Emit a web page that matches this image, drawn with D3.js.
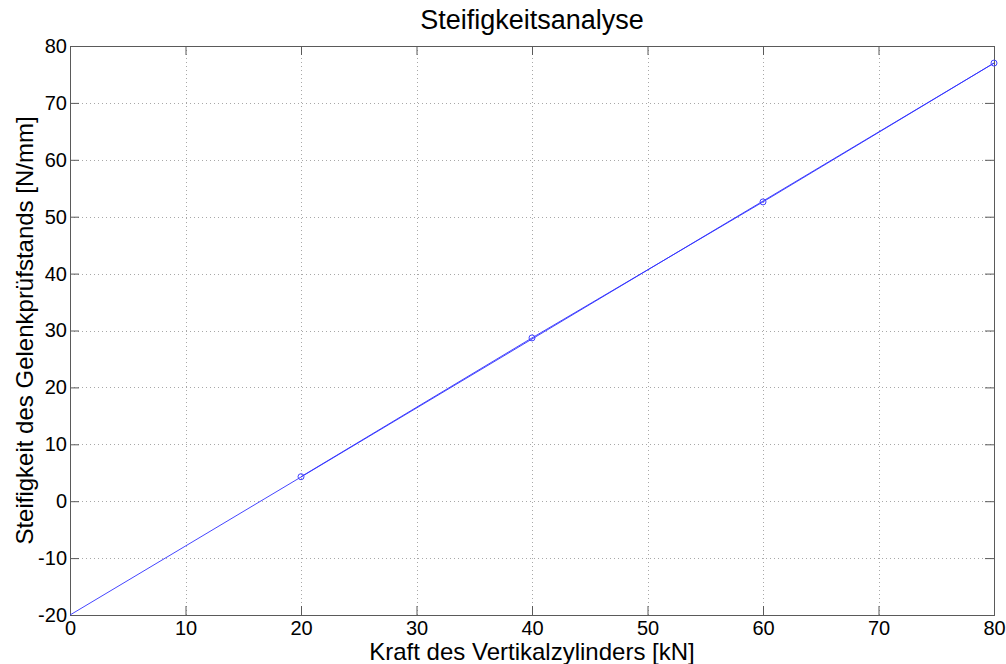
<!DOCTYPE html>
<html>
<head>
<meta charset="utf-8">
<script src="https://cdn.jsdelivr.net/npm/d3@7"></script>
<style>
  html, body { margin: 0; padding: 0; background: #fff; }
  svg { display: block; font-family: "Liberation Sans", Arial, sans-serif; }
</style>
</head>
<body>
<svg id="chart" width="1006" height="664"></svg>
<script>
// Measured force levels and resulting stiffness
const forceKN = [20, 40, 60, 80];
const stiffness = [4.3, 28.7, 52.6, 77.0];

// Linear fit through the measurements, drawn across the full force range
const fitForce = [0, 80];
const fitStiffness = [-20.0, 77.0];

const xTicks = [0, 10, 20, 30, 40, 50, 60, 70, 80];
const yTicks = [-20, -10, 0, 10, 20, 30, 40, 50, 60, 70, 80];

const titleText = "Steifigkeitsanalyse";
const xLabelText = "Kraft des Vertikalzylinders [kN]";
const yLabelText = "Steifigkeit des Gelenkprüfstands [N/mm]";

const svg = d3.select("#chart");
const margin = { left: 70, right: 12, top: 46, bottom: 49 };
const W = 1006, H = 664;
const x0 = margin.left, x1 = W - margin.right;
const y0 = H - margin.bottom, y1 = margin.top;

const x = d3.scaleLinear().domain([0, 80]).range([x0, x1]);
const y = d3.scaleLinear().domain([-20, 80]).range([y0, y1]);

const axisColor = "#5a5a5a";
const tickLen = 9;
const plainNum = d => String(d);

// Dotted grid
const grid = svg.append("g").attr("stroke", "#a8a8a8").attr("stroke-width", 1)
  .attr("stroke-dasharray", "1,3").attr("shape-rendering", "crispEdges");
grid.selectAll("line.gx").data(xTicks.slice(1, -1)).join("line")
  .attr("x1", d => Math.round(x(d)) + 0.5).attr("x2", d => Math.round(x(d)) + 0.5)
  .attr("y1", y1).attr("y2", y0);
grid.selectAll("line.gy").data(yTicks.slice(1, -1)).join("line")
  .attr("y1", d => Math.round(y(d)) + 0.5).attr("y2", d => Math.round(y(d)) + 0.5)
  .attr("x1", x0).attr("x2", x1);

// Axes with inward ticks on all four sides
function styleAxis(g) {
  g.select(".domain").remove();
  g.selectAll(".tick line").attr("stroke", axisColor);
  g.selectAll(".tick text").attr("fill", "#000").attr("font-size", 20);
}
svg.append("g").attr("transform", `translate(0,${y0})`)
  .call(d3.axisBottom(x).tickValues(xTicks).tickFormat(plainNum)
    .tickSizeInner(-tickLen).tickSizeOuter(0).tickPadding(6))
  .call(styleAxis)
  .selectAll(".tick text").attr("dy", "0.71em");
svg.append("g").attr("transform", `translate(0,${y1})`)
  .call(d3.axisTop(x).tickValues(xTicks).tickSizeInner(-tickLen).tickSizeOuter(0).tickFormat(""))
  .call(styleAxis);
svg.append("g").attr("transform", `translate(${x0},0)`)
  .call(d3.axisLeft(y).tickValues(yTicks).tickFormat(plainNum)
    .tickSizeInner(-tickLen).tickSizeOuter(0).tickPadding(3))
  .call(styleAxis);
svg.append("g").attr("transform", `translate(${x1},0)`)
  .call(d3.axisRight(y).tickValues(yTicks).tickSizeInner(-tickLen).tickSizeOuter(0).tickFormat(""))
  .call(styleAxis);

// Box
svg.append("rect").attr("x", x0 + 0.5).attr("y", y1 + 0.5)
  .attr("width", x1 - x0).attr("height", y0 - y1)
  .attr("fill", "none").attr("stroke", axisColor).attr("stroke-width", 1);

// Fit line
const line = d3.line().x(d => x(d[0])).y(d => y(d[1]));
svg.append("path")
  .datum(d3.zip(fitForce, fitStiffness))
  .attr("d", line).attr("fill", "none").attr("stroke", "#3030ff").attr("stroke-width", 0.9);

// Measured data line with circle markers
const pts = d3.zip(forceKN, stiffness);
svg.append("path")
  .datum(pts)
  .attr("d", line).attr("fill", "none").attr("stroke", "#3030ff").attr("stroke-width", 0.9);
svg.append("g").selectAll("circle").data(pts).join("circle")
  .attr("cx", d => x(d[0])).attr("cy", d => y(d[1])).attr("r", 3)
  .attr("fill", "none").attr("stroke", "#4040ff").attr("stroke-width", 1);

// Title and axis labels
svg.append("text").attr("x", (x0 + x1) / 2).attr("y", 29)
  .attr("text-anchor", "middle").attr("font-size", 27).text(titleText);
svg.append("text").attr("x", (x0 + x1) / 2).attr("y", 660)
  .attr("text-anchor", "middle").attr("font-size", 24).text(xLabelText);
svg.append("text").attr("transform", `translate(33,${(y0 + y1) / 2}) rotate(-90)`)
  .attr("text-anchor", "middle").attr("font-size", 24).text(yLabelText);
</script>
</body>
</html>
